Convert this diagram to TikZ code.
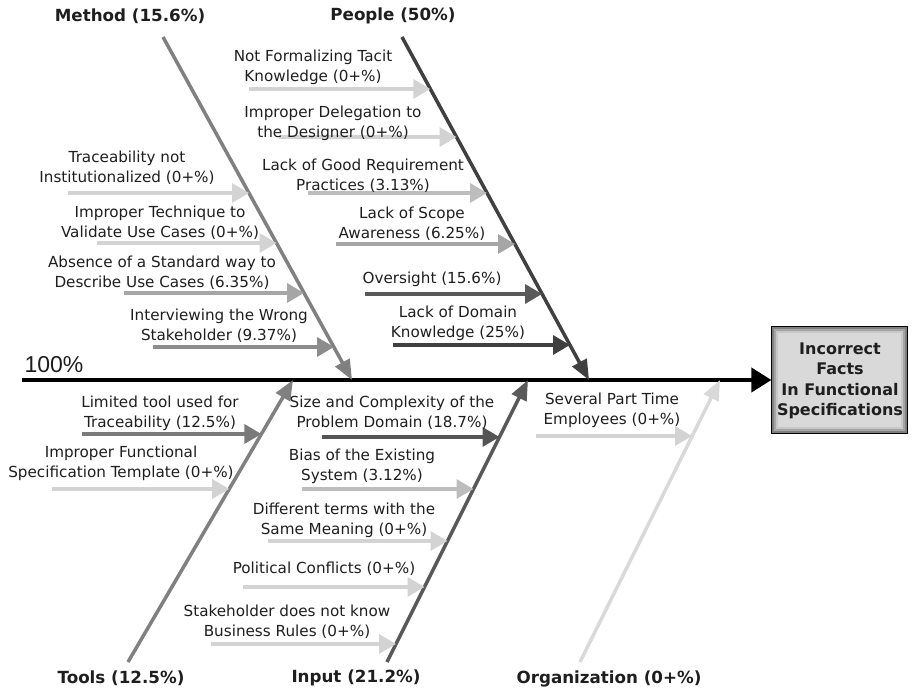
\documentclass[tikz,border=0pt]{standalone}
\usepackage{fontspec}
\setmainfont{DejaVu Sans}
\newfontfamily\arialf{Liberation Sans}
\usetikzlibrary{arrows.meta}
\definecolor{txt}{HTML}{1E1E1E}
\definecolor{g0}{HTML}{D3D3D3}
\definecolor{g3}{HTML}{BDBDBD}
\definecolor{g6}{HTML}{A6A6A6}
\definecolor{g9}{HTML}{8C8C8C}
\definecolor{g12}{HTML}{7A7A7A}
\definecolor{g15}{HTML}{5A5A5A}
\definecolor{g18}{HTML}{555555}
\definecolor{g25}{HTML}{404040}
\definecolor{bmethod}{HTML}{808080}
\definecolor{bpeople}{HTML}{404040}
\definecolor{btools}{HTML}{808080}
\definecolor{binput}{HTML}{595959}
\definecolor{borg}{HTML}{D9D9D9}
\definecolor{boxfill}{HTML}{D9D9D9}
\begin{document}
\begin{tikzpicture}[x=1pt,y=-1pt,
  lbl/.style={font=\fontsize{15.2}{20}\selectfont, align=center, inner sep=0pt, text=txt},
  cat/.style={font=\fontsize{16.7}{20}\selectfont\bfseries, inner sep=0pt, text=txt},
  bone/.style={line width=3.5pt, -{Triangle[length=20pt,width=16pt]}},
  subarr/.style={line width=3.5pt, -{Triangle[length=17pt,width=19pt]}},
  spine/.style={line width=4pt, -{Triangle[length=20pt,width=24pt]}}]
\useasboundingbox (0,0) rectangle (913,692);

% effect box
\node[draw=black, line width=1.2pt, fill=boxfill, minimum width=135pt, minimum height=106pt, inner sep=0pt] (effect) at (839.5,380) {};
\draw[color=black!50, line width=2pt] ([shift={(1.6,1.6)}]effect.north west) rectangle ([shift={(-1.6,-1.6)}]effect.south east);
\draw[color=black!35, line width=2pt] ([shift={(3.6,3.6)}]effect.north west) rectangle ([shift={(-3.6,-3.6)}]effect.south east);
\draw[color=black!22, line width=2pt] ([shift={(5.6,5.6)}]effect.north west) rectangle ([shift={(-5.6,-5.6)}]effect.south east);
\node[font=\fontsize{16}{20.5}\selectfont\bfseries, align=center, inner sep=0pt, text=txt] (efftext) at (840,381) {Incorrect\\Facts\\In Functional\\Specifications};

% spine
\coordinate (spS) at (22,380);
\draw[spine] (spS) -- (effect.west);
\node[font=\arialf\fontsize{23}{26}\selectfont, inner sep=0pt, text=txt] (hundred) at (54,365) {100\%};

% category labels
\node[cat] (cMethod) at (130,16) {Method (15.6\%)};
\node[cat] (cPeople) at (393,16) {People (50\%)};
\node[cat] (cTools) at (121,678) {Tools (12.5\%)};
\node[cat] (cInput) at (356,678) {Input (21.2\%)};
\node[cat] (cOrg) at (609,679) {Organization (0+\%)};

% bones
\coordinate (mS) at (163,37);  \coordinate (mE) at (352,380);
\coordinate (pS) at (402,37);  \coordinate (pE) at (589,380);
\coordinate (tS) at (128,662); \coordinate (tE) at (293,380);
\coordinate (iS) at (387,662); \coordinate (iE) at (528,380);
\coordinate (oS) at (580,662); \coordinate (oE) at (720,380);
\draw[bone, bmethod] (mS) -- (mE);
\draw[bone, bpeople] (pS) -- (pE);
\draw[bone, btools] (tS) -- (tE);
\draw[bone, binput] (iS) -- (iE);
\draw[bone, borg] (oS) -- (oE);

% Method causes
\coordinate (m1s) at (68,193);  \coordinate (m1e) at (249,193);
\coordinate (m2s) at (97,243);  \coordinate (m2e) at (276.5,243);
\coordinate (m3s) at (124,293); \coordinate (m3e) at (304,293);
\coordinate (m4s) at (153,347); \coordinate (m4e) at (334,347);
\draw[subarr, g0] (m1s) -- (m1e);
\draw[subarr, g0] (m2s) -- (m2e);
\draw[subarr, g6] (m3s) -- (m3e);
\draw[subarr, g9] (m4s) -- (m4e);
\node[lbl] (m1t) at (127,168) {Traceability not\\Institutionalized (0+\%)};
\node[lbl] (m2t) at (160,223) {Improper Technique to\\Validate Use Cases (0+\%)};
\node[lbl] (m3t) at (162,273) {Absence of a Standard way to\\Describe Use Cases (6.35\%)};
\node[lbl] (m4t) at (219,326) {Interviewing the Wrong\\Stakeholder (9.37\%)};

% People causes
\coordinate (p1s) at (249,89);  \coordinate (p1e) at (430.3,89);
\coordinate (p2s) at (279,137); \coordinate (p2e) at (456.5,137);
\coordinate (p3s) at (308,193); \coordinate (p3e) at (487,193);
\coordinate (p4s) at (336,244); \coordinate (p4e) at (515,244);
\coordinate (p5s) at (365,294); \coordinate (p5e) at (542,294);
\coordinate (p6s) at (393,345); \coordinate (p6e) at (570,345);
\draw[subarr, g0] (p1s) -- (p1e);
\draw[subarr, g0] (p2s) -- (p2e);
\draw[subarr, g3] (p3s) -- (p3e);
\draw[subarr, g6] (p4s) -- (p4e);
\draw[subarr, g15] (p5s) -- (p5e);
\draw[subarr, g25] (p6s) -- (p6e);
\node[lbl] (p1t) at (313,67) {Not Formalizing Tacit\\Knowledge (0+\%)};
\node[lbl] (p2t) at (333,123) {Improper Delegation to\\the Designer (0+\%)};
\node[lbl] (p3t) at (363,176) {Lack of Good Requirement\\Practices (3.13\%)};
\node[lbl] (p4t) at (412,224) {Lack of Scope\\Awareness (6.25\%)};
\node[lbl] (p5t) at (432,279) {Oversight (15.6\%)};
\node[lbl] (p6t) at (458,323) {Lack of Domain\\Knowledge (25\%)};

% Tools causes
\coordinate (t1s) at (82,434); \coordinate (t1e) at (261.4,434);
\coordinate (t2s) at (52,489); \coordinate (t2e) at (229.2,489);
\draw[subarr, g12] (t1s) -- (t1e);
\draw[subarr, g0] (t2s) -- (t2e);
\node[lbl] (t1t) at (160,413) {Limited tool used for\\Traceability (12.5\%)};
\node[lbl] (t2t) at (121,463) {Improper Functional\\Specification Template (0+\%)};

% Input causes
\coordinate (i1s) at (322,437); \coordinate (i1e) at (499.5,437);
\coordinate (i2s) at (302,489); \coordinate (i2e) at (473.5,489);
\coordinate (i3s) at (268,541); \coordinate (i3e) at (447.5,541);
\coordinate (i4s) at (243,587); \coordinate (i4e) at (424.5,587);
\coordinate (i5s) at (211,644); \coordinate (i5e) at (396,644);
\draw[subarr, g18] (i1s) -- (i1e);
\draw[subarr, g3] (i2s) -- (i2e);
\draw[subarr, g0] (i3s) -- (i3e);
\draw[subarr, g0] (i4s) -- (i4e);
\draw[subarr, g0] (i5s) -- (i5e);
\node[lbl] (i1t) at (392,413) {Size and Complexity of the\\Problem Domain (18.7\%)};
\node[lbl] (i2t) at (362,466) {Bias of the Existing\\System (3.12\%)};
\node[lbl] (i3t) at (344,520) {Different terms with the\\Same Meaning (0+\%)};
\node[lbl] (i4t) at (324,569) {Political Conflicts (0+\%)};
\node[lbl] (i5t) at (287,622) {Stakeholder does not know\\Business Rules (0+\%)};

% Organization cause
\coordinate (o1s) at (536,436); \coordinate (o1e) at (692,436);
\draw[subarr, g0] (o1s) -- (o1e);
\node[lbl] (o1t) at (612,410) {Several Part Time\\Employees (0+\%)};
\end{tikzpicture}
\end{document}
